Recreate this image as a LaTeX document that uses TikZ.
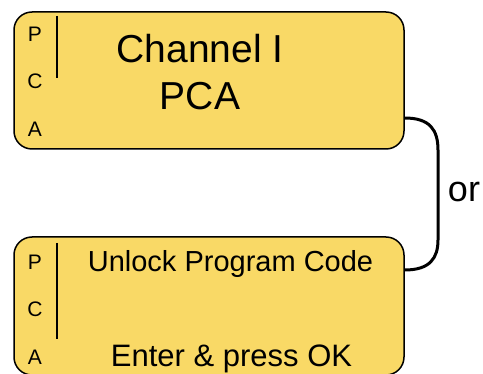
\documentclass[tikz,border=0pt]{standalone}
\usepackage{fontspec}
\setmainfont{Liberation Sans}
\usetikzlibrary{calc}
\definecolor{boxfill}{RGB}{249,217,102}
\tikzset{
  panel/.style={draw=black, fill=boxfill, line width=1.5pt, rounded corners=18pt,
    minimum width=390pt, minimum height=#1, inner sep=0pt},
  letter/.style={anchor=base, inner sep=0pt, font=\fontsize{21}{21}\selectfont},
  sepline/.style={line width=2pt},
  bracket/.style={line width=3pt}
}
\begin{document}
\begin{tikzpicture}[x=1pt,y=-1pt]
\useasboundingbox (0,0) rectangle (483,374);
\clip (0,0) rectangle (483,374);
% panels
\node[panel=137pt] (box1) at (209,80.5) {};
\node[panel=138pt] (box2) at (209,306) {};
% side letters
\node[letter] (p1) at (35,41.7) {P};
\node[letter] (c1) at (35,89) {C};
\node[letter] (a1) at (35,137) {A};
\node[letter] (p2) at (35,270) {P};
\node[letter] (c2) at (35,317) {C};
\node[letter] (a2) at (35,365) {A};
% separators
\draw[sepline] (57,16) -- (57,78);
\draw[sepline] (57,243) -- (57,339);
% texts
\node[anchor=base, inner sep=0pt, font=\fontsize{39}{39}\selectfont] (t1) at (200,63) {Channel I};
\node[anchor=base, inner sep=0pt, font=\fontsize{39}{39}\selectfont] (t2) at (200,110) {PCA};
\node[anchor=base, inner sep=0pt, font=\fontsize{29}{29}\selectfont] (t3) at (230.5,272) {Unlock Program Code};
\node[anchor=base, inner sep=0pt, font=\fontsize{31}{31}\selectfont] (t4) at (231.5,367) {Enter \& press OK};
\node[anchor=base, inner sep=0pt, font=\fontsize{36}{36}\selectfont] (or) at (464,202) {or};
% bracket
\coordinate (b1) at ($(box1.east)+(0,37.5)$);
\coordinate (b2) at ($(box2.east)+(0,-36)$);
\draw[bracket] (b1) .. controls (430,118) and (438,130) .. (438,150) -- (438,240) .. controls (438,258) and (430,270) .. (b2);
\end{tikzpicture}
\end{document}
